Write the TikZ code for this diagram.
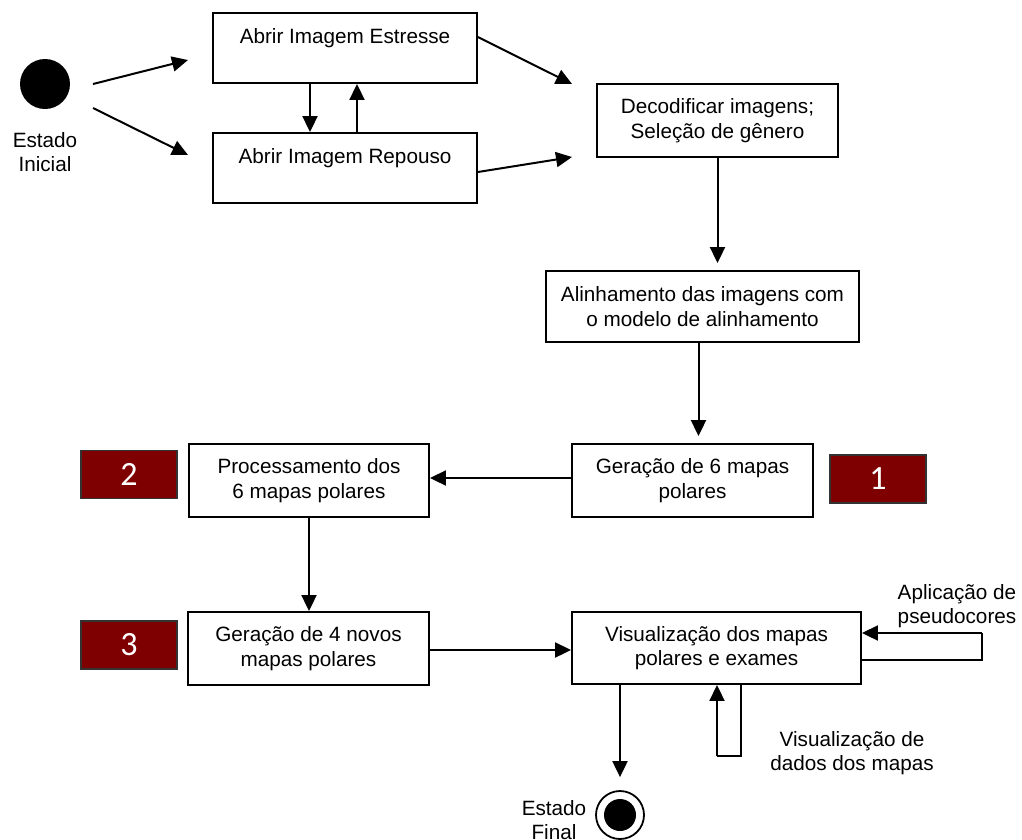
\documentclass[tikz,border=0pt]{standalone}
\usepackage{fontspec}
\setmainfont{Liberation Sans}
\newfontfamily\digitfont{Carlito}
\usetikzlibrary{arrows.meta,calc}
\definecolor{markred}{HTML}{7F0000}
\begin{document}
\begin{tikzpicture}[x=1pt,y=-1pt,
  every node/.style={font=\fontsize{20.7}{24.5}\selectfont},
  box/.style={draw,line width=1.9pt,fill=white,inner sep=0pt,align=center},
  txt/.style={align=center,inner sep=0pt},
  marker/.style={draw=black!80,line width=1.4pt,fill=markred,inner sep=0pt,
    minimum width=96pt,minimum height=48pt,text=white,
    font=\digitfont\fontsize{34}{34}\selectfont},
  arr/.style={line width=2pt,-{Triangle[length=16pt,width=15pt]}},
  ln/.style={line width=2pt}]
\useasboundingbox (0,0) rectangle (1022,839);

% start and end states
\node[circle,fill=black,minimum size=50pt,inner sep=0pt] (init) at (45,84) {};
\node[txt] (initlbl) at (45,152) {Estado\\Inicial};
\node[circle,draw,line width=1.8pt,minimum size=48pt,inner sep=0pt] (final) at (620,815) {};
\node[circle,fill=black,minimum size=32pt,inner sep=0pt] (finalin) at (final.center) {};
\node[txt] (finallbl) at (554,820) {Estado\\Final};

% activities
\node[box,minimum width=264pt,minimum height=70pt] (est) at (345,48) {Abrir Imagem Estresse\\\mbox{}};
\node[box,minimum width=264pt,minimum height=70pt] (rep) at (345,168) {Abrir Imagem Repouso\\\mbox{}};
\node[box,minimum width=241pt,minimum height=73pt] (dec) at (717.5,120.5) {Decodificar imagens;\\Seleção de gênero};
\node[box,minimum width=313pt,minimum height=71pt] (ali) at (702.5,306.5) {Alinhamento das imagens com\\o modelo de alinhamento};
\node[box,minimum width=241pt,minimum height=73pt] (g6) at (692.5,480.5) {Geração de 6 mapas\\polares};
\node[box,minimum width=240pt,minimum height=73pt] (proc) at (309,480.5) {Processamento dos\\6 mapas polares};
\node[box,minimum width=241pt,minimum height=73pt] (g4) at (308.5,648.5) {Geração de 4 novos\\mapas polares};
\node[box,minimum width=289pt,minimum height=72pt] (vis) at (716.5,648) {Visualização dos mapas\\polares e exames};

% step markers
\node[marker] (m1) at (878,479) {1};
\node[marker] (m2) at (129,474.5) {2};
\node[marker] (m3) at (129,645) {3};

% self-transition labels
\node[txt] (pseudo) at (957,606) {Aplicação de\\pseudocores};
\node[txt] (dados) at (852,753) {Visualização de\\dados dos mapas};

% free ends of the open arrows
\coordinate (s1) at (93,84);
\coordinate (e1) at (188,60);
\coordinate (s2) at (93,108);
\coordinate (e2) at (188,155);
\coordinate (e3) at (572,84);
\coordinate (e4) at (572,157);
\coordinate (rloop) at (982,660);
\coordinate (bloop) at (741,756);

% transitions
\draw[arr] (s1) -- (e1);
\draw[arr] (s2) -- (e2);
\draw[arr] ([xshift=-35pt]est.south) -- ([xshift=-35pt]rep.north);
\draw[arr] ([xshift=12pt]rep.north) -- ([xshift=12pt]est.south);
\draw[arr] ([yshift=11pt]est.east) -- (e3);
\draw[arr] ([yshift=-4pt]rep.east) -- (e4);
\draw[arr,shorten >=7pt] (dec.south) -- (dec.south |- ali.north);
\draw[arr,shorten >=7pt] ([xshift=-4pt]ali.south) -- ([xshift=-4pt]ali.south |- g6.north);
\draw[arr] (g6.west |- 0,478) -- (proc.east |- 0,478);
\draw[arr] (proc.south) -- (proc.south |- g4.north);
\draw[arr] (g4.east |- 0,650) -- (vis.west |- 0,650);
\draw[ln] (vis.east |- rloop) -- (rloop) -- (rloop |- 0,633);
\draw[arr] (rloop |- 0,633) -- (vis.east |- 0,633);
\draw[ln] (vis.south -| bloop) -- (bloop) -- (717,756);
\draw[arr] (717,756) -- (vis.south -| 717,0);
\draw[arr,shorten >=13pt] (vis.south -| final) -- (final.north);
\end{tikzpicture}
\end{document}
